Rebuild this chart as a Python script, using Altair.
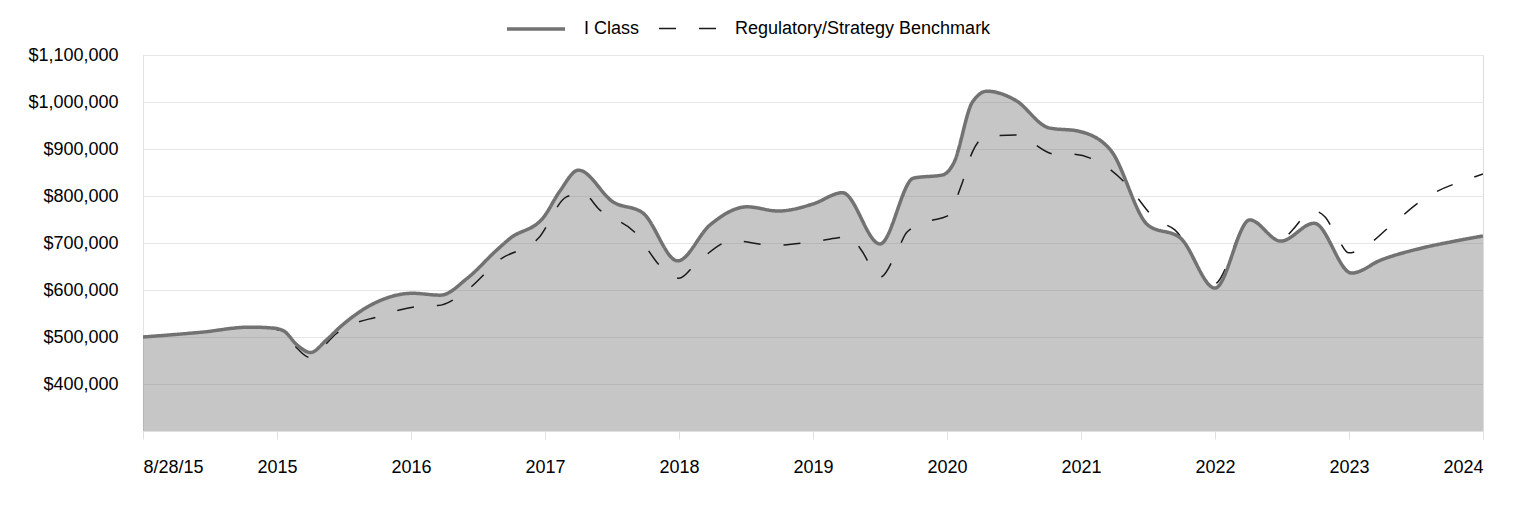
import altair as alt
import pandas as pd

# Axis tick labels (evenly spaced positions 0..10)
x_labels = ["8/28/15", "2015", "2016", "2017", "2018", "2019",
            "2020", "2021", "2022", "2023", "2024"]

series_names = ["I Class", "Regulatory/Strategy Benchmark"]

# I Class (position along the axis, value in $)
iclass_t = [0, 0.43, 0.80, 0.97, 1.05, 1.15, 1.25, 1.37, 1.47, 1.75, 2.01, 2.22,
            2.42, 2.64, 2.74, 2.99, 3.11, 3.25, 3.51, 3.73, 3.99, 4.23, 4.51, 4.74,
            5.00, 5.22, 5.50, 5.75, 5.97, 6.05, 6.19, 6.30, 6.51, 6.76, 6.98, 7.22,
            7.50, 7.74, 8.00, 8.26, 8.49, 8.74, 9.02, 9.24, 9.54, 9.79, 10.0]
iclass_v = [500000, 510000, 521000, 519000, 513000, 483000, 467000, 494000, 521000,
            575000, 593000, 589000, 625000, 685000, 710000, 755000, 810000, 855000,
            787000, 764000, 662000, 738000, 777000, 768000, 783000, 807000, 698000,
            838000, 845000, 870000, 1000000, 1023000, 1004000, 945000, 938000, 898000,
            738000, 711000, 604000, 749000, 704000, 742000, 636000, 664000, 689000,
            704000, 715000]

# Regulatory/Strategy Benchmark
bench_t = [0, 0.43, 0.80, 0.97, 1.05, 1.15, 1.24, 1.45, 1.57, 1.75, 1.88, 2.09,
           2.20, 2.42, 2.66, 2.95, 3.16, 3.28, 3.41, 3.67, 3.88, 4.00, 4.13, 4.40,
           4.70, 5.03, 5.28, 5.36, 5.50, 5.64, 5.70, 5.87, 6.00, 6.11, 6.19, 6.28,
           6.51, 6.81, 6.93, 7.19, 7.33, 7.56, 7.70, 7.99, 8.26, 8.49, 8.58, 8.67,
           8.74, 8.82, 8.90, 9.00, 9.12, 9.30, 9.57, 9.93, 10.0]
bench_v = [500000, 510000, 521000, 518000, 508000, 476000, 457000, 509000, 528000,
           543000, 555000, 566000, 567000, 600000, 664000, 710000, 798000, 806000,
           770000, 723000, 645000, 625000, 657000, 705000, 695000, 704000, 713000,
           685000, 627000, 690000, 723000, 747000, 757000, 825000, 894000, 925000,
           930000, 889000, 889000, 862000, 828000, 750000, 728000, 612000, 748000,
           706000, 728000, 758000, 768000, 756000, 719000, 679000, 692000, 734000,
           796000, 840000, 847000]

df_i = pd.DataFrame({"t": iclass_t, "value": iclass_v, "series": series_names[0]})
df_b = pd.DataFrame({"t": bench_t, "value": bench_v, "series": series_names[1]})

label_array = "[" + ",".join("'" + s + "'" for s in x_labels) + "]"

x_enc = alt.X(
    "t:Q",
    scale=alt.Scale(domain=[0, 10], nice=False, zero=False),
    axis=alt.Axis(
        values=list(range(len(x_labels))),
        labelExpr=label_array + "[datum.value]",
        title=None, grid=False, tickSize=8, tickColor="#e0e0e0",
        domainColor="#e0e0e0", labelPadding=19,
    ),
)
y_enc = alt.Y(
    "value:Q",
    scale=alt.Scale(domain=[300000, 1100000], nice=False, zero=False),
    axis=alt.Axis(
        values=[400000, 500000, 600000, 700000, 800000, 900000, 1000000, 1100000],
        format="$,.0f", title=None, ticks=False, labelPadding=25,
        domainColor="#e3e3e3", gridColor="#e6e6e6",
    ),
)

color_enc = alt.Color("series:N",
                      scale=alt.Scale(domain=series_names, range=["#727272", "#1a1a1a"]),
                      legend=alt.Legend(title=None))
dash_enc = alt.StrokeDash("series:N",
                          scale=alt.Scale(domain=series_names, range=[[1, 0], [17, 23]]),
                          legend=alt.Legend(title=None))
width_enc = alt.StrokeWidth("series:N",
                            scale=alt.Scale(domain=series_names, range=[3.5, 1.5]),
                            legend=alt.Legend(title=None))

area = alt.Chart(df_i).mark_area(
    color="#7e7e7e", opacity=0.44, interpolate="monotone", clip=True
).encode(x=x_enc, y=y_enc, y2=alt.datum(300000))

bench_line = alt.Chart(df_b).mark_line(interpolate="monotone", clip=True).encode(
    x=x_enc, y=y_enc, color=color_enc, strokeDash=dash_enc, strokeWidth=width_enc
)
iclass_line = alt.Chart(df_i).mark_line(interpolate="monotone", clip=True).encode(
    x=x_enc, y=y_enc, color=color_enc, strokeDash=dash_enc, strokeWidth=width_enc
)

chart = alt.layer(area, bench_line, iclass_line).properties(
    width=1340, height=376,
    autosize=alt.AutoSizeParams(type="none"),
    padding={"left": 135, "top": 47, "right": 30, "bottom": 70},
).configure_view(stroke=None).configure(
    font="Liberation Sans"
).configure_axis(
    labelFont="Liberation Sans", labelFontSize=18, labelColor="#000000",
).configure_legend(
    orient="none", legendX=362, legendY=-57, padding=0, direction="horizontal",
    labelFontSize=18, labelColor="#000000", labelLimit=0,
    labelFont="Liberation Sans", symbolType="stroke", symbolSize=3364,
    labelOffset=17, columnPadding=16,
)

chart.save("out.html", embed_options={"renderer": "svg", "actions": False})
